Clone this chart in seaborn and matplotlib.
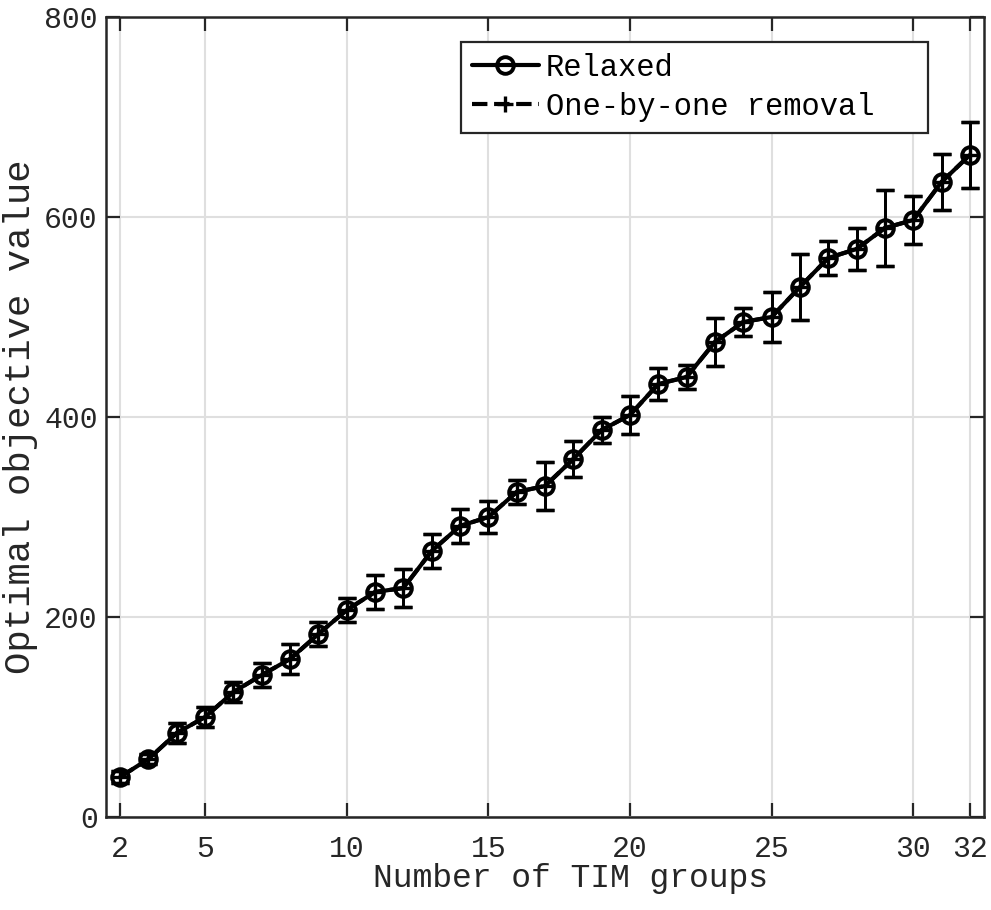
import matplotlib
matplotlib.use("Agg")
import matplotlib.pyplot as plt
import seaborn as sns
import pandas as pd
import numpy as np

groups = [2, 3, 4, 5, 6, 7, 8, 9, 10, 11, 12, 13, 14, 15, 16, 17,
          18, 19, 20, 21, 22, 23, 24, 25, 26, 27, 28, 29, 30, 31, 32]
relaxed = [40, 58, 84, 100, 125, 142, 158, 183, 207, 225, 229, 266, 291, 300,
           325, 331, 358, 387, 402, 433, 440, 475, 495, 500, 530, 559, 568,
           589, 597, 635, 662]
relaxed_err = [6, 5, 10, 10, 10, 12, 15, 12, 12, 17, 19, 17, 17, 16, 12, 24,
               18, 13, 19, 16, 12, 24, 14, 25, 33, 17, 21, 38, 24, 28, 33]
onebyone = list(relaxed)
onebyone_err = list(relaxed_err)

xticks = [2, 5, 10, 15, 20, 25, 30, 32]
yticks = [0, 200, 400, 600, 800]

sns.set_theme(style="whitegrid")
plt.rcParams['font.family'] = ['Liberation Mono', 'DejaVu Sans Mono']
txt = '#262626'

fig = plt.figure(figsize=(9.91, 9.10), dpi=100)
ax = fig.add_axes([106/991, 93/910, 878/991, 800/910])

df = pd.DataFrame({'x': groups + groups,
                   'y': relaxed + onebyone,
                   'series': ['Relaxed'] * len(groups) + ['One-by-one removal'] * len(groups)})

# Relaxed
ax.errorbar(groups, relaxed, yerr=relaxed_err, fmt='none', ecolor='black',
            elinewidth=2.0, capsize=6.8, capthick=2.4, zorder=3)
sns.lineplot(data=df[df.series == 'Relaxed'], x='x', y='y', ax=ax,
             color='black', linewidth=3.0, marker='o', markersize=12,
             markerfacecolor='none', markeredgecolor='black', markeredgewidth=2.8,
             label='Relaxed', zorder=4)
# One-by-one removal
ax.errorbar(groups, onebyone, yerr=onebyone_err, fmt='none', ecolor='black',
            elinewidth=2.0, capsize=6.8, capthick=2.4, zorder=5)
sns.lineplot(data=df[df.series == 'One-by-one removal'], x='x', y='y', ax=ax,
             color='black', linewidth=3.0, linestyle='--', marker='+', markersize=12,
             markeredgecolor='black', markeredgewidth=2.4,
             label='One-by-one removal', zorder=6)

ax.set_xlim(1.5, 32.5)
ax.set_ylim(0, 800)
ax.set_xticks(xticks)
ax.set_yticks(yticks)
ax.set_xticklabels([str(t) for t in xticks])
ax.set_yticklabels([str(t) for t in yticks])

ax.set_xlabel('Number of TIM groups', fontsize=23.8, color=txt)
ax.xaxis.set_label_coords(0.5285, -0.058)
ax.set_ylabel('Optimal objective value', fontsize=26.8, color=txt, labelpad=4)

ax.tick_params(axis='both', which='both', direction='in', length=10, width=1.6,
               color=txt, labelcolor=txt, labelsize=21.5,
               top=True, right=True, bottom=True, left=True)
ax.tick_params(axis='x', pad=13)
ax.tick_params(axis='y', pad=6)

ax.grid(True, color='#dfdfdf', linewidth=1.5)
ax.set_facecolor('white')
for s in ax.spines.values():
    s.set_visible(True)
    s.set_color(txt)
    s.set_linewidth(1.8)

leg = ax.legend(loc='upper left', bbox_to_anchor=(0.4043, 0.86, 0.532, 0.10875),
                mode='expand', fontsize=22,
                frameon=True, fancybox=False, framealpha=1, edgecolor=txt,
                handlelength=2.2, handletextpad=0.22, borderpad=0.35,
                labelspacing=0.3, borderaxespad=0)
leg.get_frame().set_linewidth(1.6)
for t in leg.get_texts():
    t.set_color('black')

fig.savefig('out.png', dpi=100)
